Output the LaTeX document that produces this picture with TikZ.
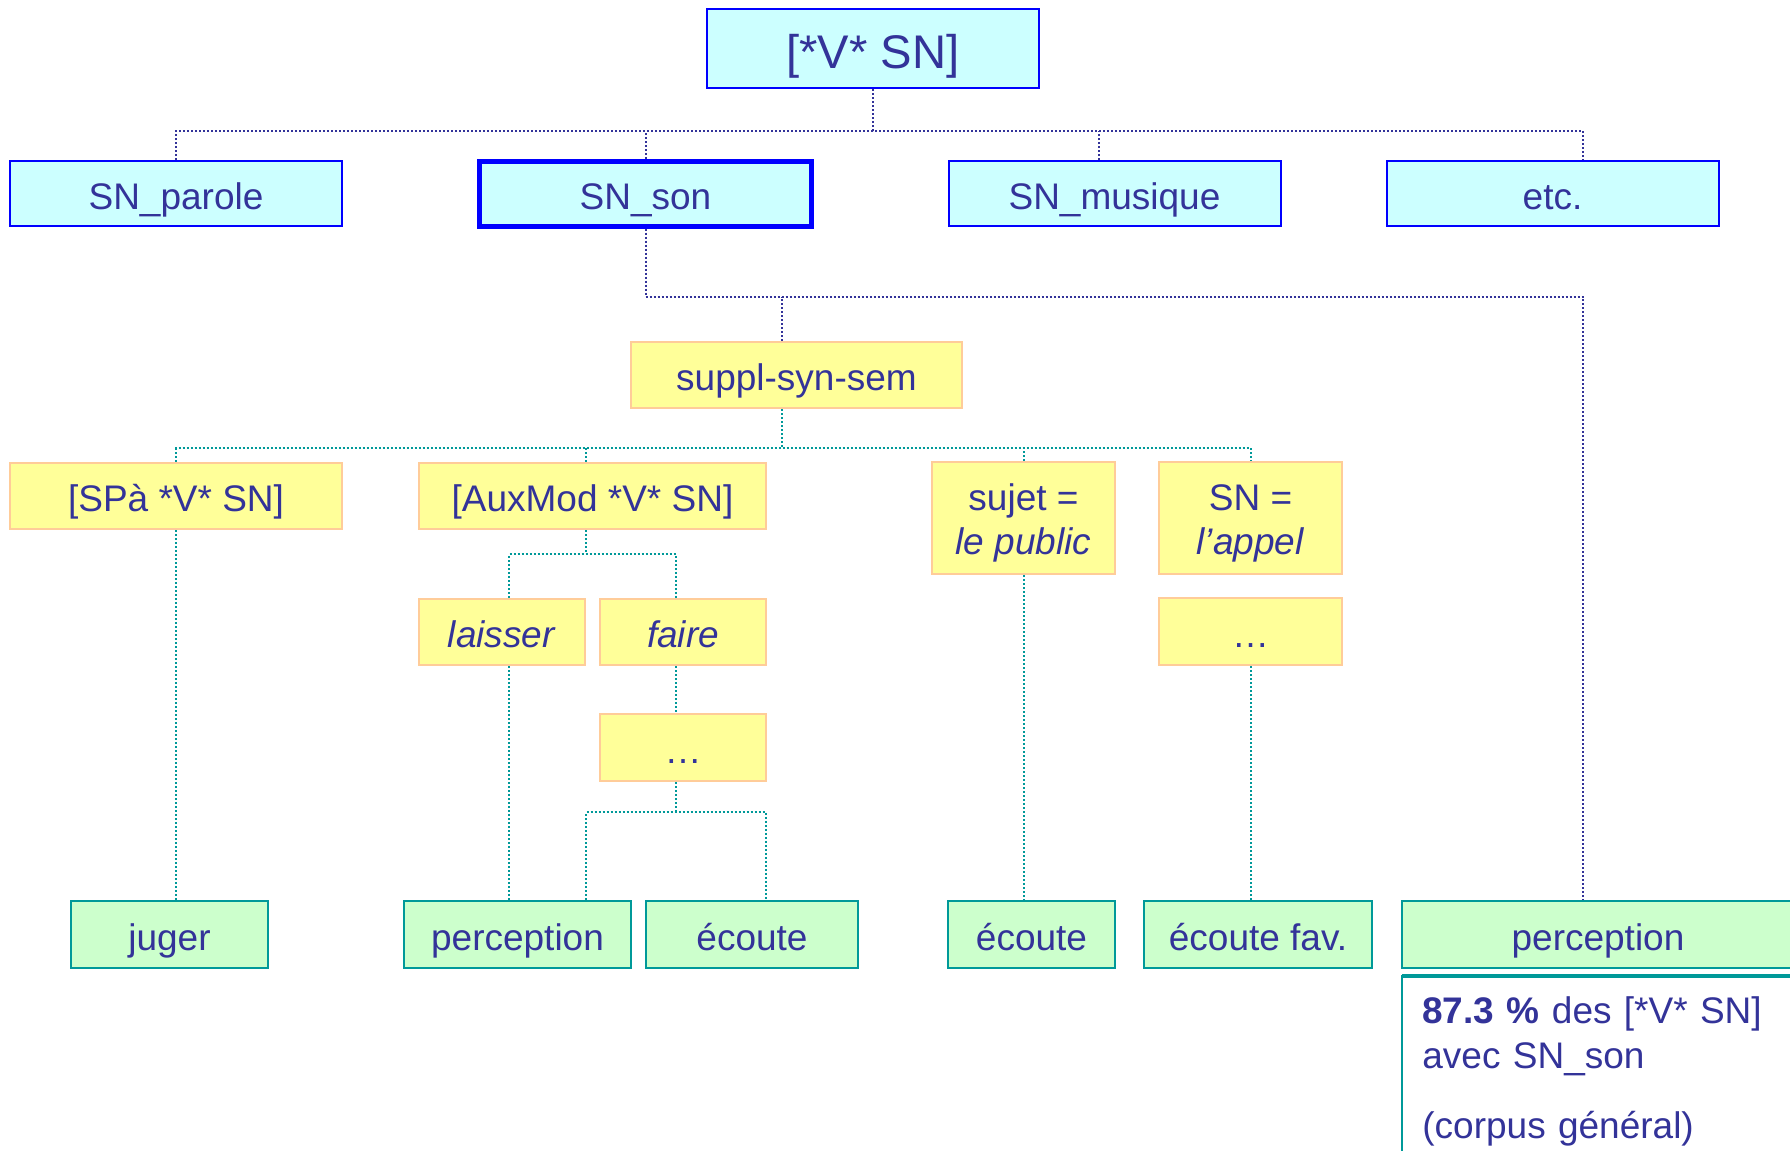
\documentclass[tikz,border=0pt]{standalone}
\usepackage{fontspec}
\setmainfont{Liberation Sans}
\definecolor{TextBlue}{HTML}{333399}
\definecolor{BoxCyan}{HTML}{CCFFFF}
\definecolor{EdgeBlue}{HTML}{0000FF}
\definecolor{BoxYellow}{HTML}{FFFF99}
\definecolor{EdgeOrange}{HTML}{FFCC99}
\definecolor{BoxGreen}{HTML}{CCFFCC}
\definecolor{EdgeTeal}{HTML}{009999}
\tikzset{
    box/.style={
        draw, line width=1pt, inner sep=0pt, align=center, text=TextBlue,
        font=\fontsize{18.5pt}{22pt}\selectfont
    },
    one line/.style={text height=17pt, text depth=1.5pt},
    boxsize/.style 2 args={minimum width=#1pt, minimum height=#2pt},
    cat box/.style={box, one line, fill=BoxCyan, draw=EdgeBlue},
    rule box/.style={box, fill=BoxYellow, draw=EdgeOrange, line width=1.25pt},
    sense box/.style={box, one line, fill=BoxGreen, draw=EdgeTeal, line width=1.25pt},
    blue link/.style={draw=TextBlue, line width=1pt, dash pattern=on 1pt off 1pt},
    teal link/.style={draw=EdgeTeal, line width=1pt, dash pattern=on 1pt off 1pt}
}

\begin{document}
\begin{tikzpicture}[x=0.5pt, y=-0.5pt]

\clip (0,0) rectangle (1790,1151);

% categories
\node[cat box, boxsize={166}{39.5}, font=\fontsize{23.6pt}{28pt}\selectfont,
      text height=21.5pt, text depth=1.5pt] (top) at (873,48.5) {[*V* SN]};
\node[cat box, boxsize={166}{32.5}] (parole) at (176,193.5) {SN\_parole};
\node[cat box, boxsize={166}{32.5}, line width=2.5pt] (son) at (645.5,193.5) {SN\_son};
\node[cat box, boxsize={166}{32.5}] (musique) at (1114.5,193.5) {SN\_musique};
\node[cat box, boxsize={166}{32.5}] (etc) at (1552.5,193.5) {etc.};

% rules
\node[rule box, one line, boxsize={165.5}{33}] (suppl) at (796.5,375) {suppl-syn-sem};
\node[rule box, one line, boxsize={166}{33}] (spa) at (176,496) {[SPà *V* SN]};
\node[rule box, one line, boxsize={173.5}{33}] (auxmod) at (592.5,496) {[AuxMod *V* SN]};
\node[rule box, boxsize={91.5}{56}] (sujet) at (1023.5,518) {\rule{0pt}{18.5pt}sujet =\\\textit{le public}};
\node[rule box, boxsize={91.5}{56}] (snappel) at (1250.5,518) {\rule{0pt}{18.5pt}SN =\\\textit{l’appel}};
\node[rule box, one line, boxsize={83}{33}] (laisser) at (502,632) {\textit{laisser}};
\node[rule box, one line, boxsize={83}{33}] (faire) at (683,632) {\textit{faire}};
\node[rule box, one line, boxsize={83}{33.5}] (dotsA) at (683,747.5) {…};
\node[rule box, one line, boxsize={91.5}{33.5}] (dotsB) at (1250.5,631.5) {…};

% senses
\node[sense box, boxsize={98.5}{33.5}] (juger) at (169.5,934.5) {juger};
\node[sense box, boxsize={113.5}{33.5}] (percA) at (517.5,934.5) {perception};
\node[sense box, boxsize={106}{33.5}] (ecouteA) at (752,934.5) {écoute};
\node[sense box, boxsize={83.5}{33.5}] (ecouteB) at (1031.5,934.5) {écoute};
\node[sense box, boxsize={114}{33.5}] (ecoutefav) at (1258,934.5) {écoute fav.};
\node[sense box, boxsize={196}{33.5}] (percB) at (1598,934.5) {perception};

% note under the last sense
\draw[draw=EdgeTeal, line width=1.25pt, fill=white] (1402,976) rectangle (1812,1172);
\draw[draw=EdgeTeal, line width=2pt] (1402,976) -- (1812,976);
\node[anchor=north west, inner sep=0pt, align=left, text width=180pt, text=TextBlue,
      font=\fontsize{18.5pt}{22.5pt}\selectfont] (note) at (1422,996)
    {\textbf{87.3 \%} des [*V* SN]\\avec SN\_son\\[12.5pt](corpus général)};

% links between categories
\coordinate (musA) at ([xshift=-7.75pt]musique.north);
\coordinate (etcA) at ([xshift=15.25pt]etc.north);
\draw[blue link] (top.south) -- ++(0,42) coordinate (busA);
\draw[blue link] (parole.north) |- (busA) -| (etcA);
\draw[blue link] (son.north) -- (son.north |- busA);
\draw[blue link] (musA) -- (musA |- busA);

\coordinate (supA) at ([xshift=-7.25pt]suppl.north);
\coordinate (percBtop) at ([xshift=-7.5pt]percB.north);
\draw[blue link] (son.south) -- ++(0,68) coordinate (busB) -| (percBtop);
\draw[blue link] (supA) -- (supA |- busB);

% links between rules
\coordinate (supB) at ([xshift=-7.25pt]suppl.south);
\coordinate (auxA) at ([xshift=-3.25pt]auxmod.north);
\draw[teal link] (supB) -- ++(0,39) coordinate (busC);
\draw[teal link] (spa.north) |- (busC) -| (snappel.north);
\draw[teal link] (auxA) -- (auxA |- busC);
\draw[teal link] (sujet.north) -- (sujet.north |- busC);

\coordinate (auxB) at ([xshift=-3.25pt]auxmod.south);
\coordinate (laiA) at ([xshift=3.5pt]laisser.north);
\coordinate (faiA) at ([xshift=-3.5pt]faire.north);
\draw[teal link] (auxB) -- ++(0,24) coordinate (busD);
\draw[teal link] (laiA) |- (busD) -| (faiA);
\draw[teal link] ([xshift=-3.5pt]faire.south) -- ([xshift=-3.5pt]dotsA.north);

% links down to the senses
\coordinate (dotA) at ([xshift=-3.5pt]dotsA.south);
\coordinate (percAtop) at ([xshift=34.25pt]percA.north);
\coordinate (ecoAtop) at ([xshift=7pt]ecouteA.north);
\draw[teal link] (dotA) -- ++(0,30) coordinate (busE);
\draw[teal link] (percAtop) |- (busE) -| (ecoAtop);

\coordinate (laiB) at ([xshift=3.5pt]laisser.south);
\draw[teal link] (spa.south) -- (spa.south |- juger.north);
\draw[teal link] (laiB) -- (laiB |- percA.north);
\draw[teal link] (sujet.south) -- (sujet.south |- ecouteB.north);
\draw[teal link] (dotsB.south) -- (dotsB.south |- ecoutefav.north);

\end{tikzpicture}
\end{document}
